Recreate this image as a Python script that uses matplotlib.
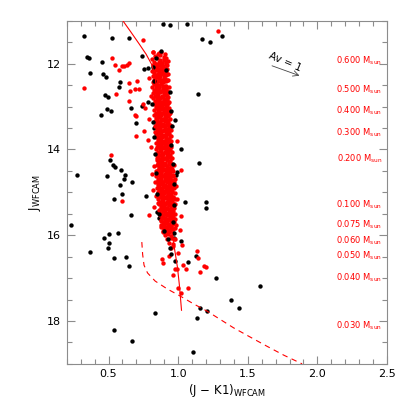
import numpy as np
import matplotlib
matplotlib.use("Agg")
import matplotlib.pyplot as plt
from matplotlib.ticker import MultipleLocator

# ---------------- data ----------------
# isolated black (field) points
black_x = [0.893, 0.943, 1.060, 0.321, 0.526, 0.645, 1.174, 1.229, 1.317, 0.348,
           0.360, 0.452, 0.738, 0.752, 0.781, 0.367, 0.460, 0.483, 0.579, 0.576,
           0.476, 0.495, 0.443, 0.490, 0.517, 0.664, 0.698, 0.740, 0.780, 1.143,
           0.829, 0.843, 0.974, 1.019, 1.148, 0.995, 0.986, 0.507, 0.490, 0.531,
           0.543, 0.590, 0.619, 0.610, 0.581, 0.671, 0.598, 0.536, 0.769, 1.052,
           1.198, 1.198, 0.274, 0.662, 0.848, 0.860, 0.876, 0.233, 0.567, 0.505,
           0.471, 0.505, 0.495, 0.364, 0.540, 0.629, 0.645, 0.967, 1.019, 1.129,
           1.074, 1.271, 1.586, 1.376, 1.440, 1.157, 1.207, 0.833, 1.138, 0.540,
           0.671, 1.110, 0.917]
black_j = [11.07, 11.10, 11.08, 11.35, 11.41, 11.41, 11.43, 11.50, 11.36, 11.84,
           11.88, 11.96, 11.83, 12.12, 12.10, 12.21, 12.23, 12.30, 12.43, 12.55,
           12.72, 12.78, 13.20, 13.05, 13.10, 13.03, 13.39, 12.99, 12.89, 12.71,
           13.50, 13.62, 13.32, 14.00, 14.31, 14.53, 14.60, 14.24, 14.63, 14.37,
           14.41, 14.49, 14.60, 14.68, 14.84, 14.75, 15.04, 15.15, 15.09, 15.23,
           15.22, 15.36, 14.60, 15.54, 15.47, 15.59, 15.61, 15.77, 15.95, 15.97,
           16.06, 16.18, 16.30, 16.40, 16.53, 16.51, 16.72, 16.06, 16.14, 16.48,
           16.62, 17.00, 17.19, 17.51, 17.70, 17.69, 17.77, 17.81, 17.92, 18.20,
           18.46, 18.73, 15.85]

# black points lying within the cluster sequence
black_in_x = [0.820, 0.840, 0.880, 0.915, 0.830, 0.940, 0.815, 0.945, 0.822,
              0.955, 0.828, 0.950, 0.835, 0.962, 0.840, 0.968, 0.850, 0.972,
              0.862, 0.960, 0.900, 0.930, 0.940, 0.950, 0.970, 0.980]
black_in_j = [12.08, 11.86, 11.70, 12.15, 12.40, 12.65, 12.95, 13.10, 13.35,
              13.45, 13.70, 13.90, 14.10, 14.35, 14.55, 14.80, 15.05, 15.30,
              15.50, 15.70, 15.90, 16.10, 16.30, 16.45, 15.95, 16.60]

# red (members) -- outliers around the sequence
red_out_x = [1.288, 0.750, 0.819, 0.864, 0.900, 0.526, 0.548, 0.574, 0.595, 0.614,
             0.631, 0.645, 0.321, 0.648, 0.652, 0.557, 0.707, 0.693, 0.717, 0.650,
             0.750, 0.760, 0.690, 0.700, 0.698, 0.752, 0.780, 0.519, 0.598, 0.790,
             1.133, 1.140, 1.155, 1.186, 1.200, 1.038, 1.055, 1.069, 0.883, 0.888,
             0.964, 0.974, 0.990, 0.998, 1.021, 0.960, 1.000, 1.030, 0.936, 1.019,
             0.829, 0.833, 0.840, 0.852, 0.900, 0.917, 1.020, 1.014, 0.980, 0.948,
             0.790, 0.805, 0.788, 0.812, 0.818, 0.985, 0.992, 0.808, 0.990, 0.825]
red_out_j = [11.23, 11.45, 11.73, 11.75, 11.91, 11.87, 12.04, 12.14, 12.06, 12.05,
             12.03, 11.98, 12.57, 12.45, 12.63, 12.71, 12.41, 12.59, 12.59, 12.88,
             12.94, 13.03, 13.19, 13.23, 13.69, 13.56, 13.77, 14.14, 15.21, 15.53,
             16.37, 16.54, 16.86, 16.72, 16.75, 16.69, 16.79, 17.24, 16.56, 16.65,
             16.93, 16.79, 16.79, 17.22, 17.35, 16.26, 16.41, 16.24, 16.49, 14.47,
             14.39, 14.77, 15.09, 15.26, 15.85, 15.95, 15.56, 15.87, 16.08, 15.40,
             12.33, 12.76, 13.30, 14.58, 14.95, 14.85, 15.15, 13.95, 13.80, 15.35]

# red (members) -- dense cluster sequence, one line per row
red_seq_x = [
    0.820, 0.855, 0.880, 0.905,
    0.835, 0.870, 0.895, 0.915,
    0.815, 0.848, 0.872, 0.900, 0.928,
    0.830, 0.860, 0.885, 0.910,
    0.820, 0.845, 0.868, 0.893, 0.918,
    0.832, 0.857, 0.880, 0.905,
    0.815, 0.842, 0.866, 0.890, 0.912,
    0.828, 0.853, 0.877, 0.900, 0.925,
    0.820, 0.845, 0.870, 0.895,
    0.835, 0.860, 0.884, 0.908, 0.930,
    0.818, 0.843, 0.867, 0.892, 0.915,
    0.830, 0.855, 0.880, 0.903,
    0.815, 0.840, 0.865, 0.888, 0.912, 0.935,
    0.828, 0.852, 0.876, 0.900, 0.922,
    0.820, 0.845, 0.870, 0.895, 0.918,
    0.833, 0.858, 0.882, 0.906, 0.930,
    0.822, 0.847, 0.872, 0.896, 0.920,
    0.835, 0.860, 0.884, 0.908, 0.932,
    0.825, 0.850, 0.874, 0.898, 0.922,
    0.838, 0.862, 0.887, 0.910, 0.935,
    0.828, 0.852, 0.877, 0.900, 0.925,
    0.840, 0.865, 0.889, 0.913, 0.938,
    0.830, 0.855, 0.879, 0.903, 0.927,
    0.842, 0.867, 0.891, 0.915, 0.940,
    0.832, 0.857, 0.881, 0.905, 0.930,
    0.845, 0.870, 0.894, 0.918, 0.943,
    0.835, 0.860, 0.884, 0.908, 0.932,
    0.847, 0.872, 0.896, 0.920, 0.945,
    0.837, 0.862, 0.886, 0.910, 0.935,
    0.850, 0.874, 0.898, 0.922, 0.947,
    0.838, 0.863, 0.887, 0.912, 0.937,
    0.852, 0.876, 0.900, 0.925, 0.950,
    0.840, 0.865, 0.889, 0.913, 0.938,
    0.853, 0.878, 0.902, 0.927, 0.952,
    0.842, 0.867, 0.891, 0.915, 0.940,
    0.855, 0.880, 0.904, 0.928, 0.953,
    0.843, 0.868, 0.892, 0.917, 0.942,
    0.857, 0.882, 0.906, 0.930, 0.955,
    0.845, 0.870, 0.894, 0.919, 0.944,
    0.858, 0.883, 0.908, 0.932, 0.957,
    0.847, 0.872, 0.896, 0.921, 0.946, 0.968,
    0.860, 0.885, 0.910, 0.934, 0.958,
    0.840, 0.865, 0.890, 0.914, 0.938, 0.962,
    0.853, 0.878, 0.902, 0.927, 0.951,
    0.842, 0.867, 0.892, 0.916, 0.940, 0.965,
    0.855, 0.880, 0.905, 0.929, 0.953, 0.975,
    0.845, 0.870, 0.894, 0.918, 0.943, 0.968,
    0.858, 0.883, 0.907, 0.931, 0.956,
    0.848, 0.873, 0.897, 0.921, 0.946, 0.970,
    0.862, 0.886, 0.910, 0.934, 0.958,
    0.852, 0.877, 0.901, 0.925, 0.950, 0.974,
    0.866, 0.890, 0.914, 0.938, 0.962,
    0.856, 0.881, 0.905, 0.929, 0.953, 0.978,
    0.870, 0.894, 0.918, 0.942, 0.966,
    0.860, 0.885, 0.909, 0.933, 0.957, 0.980,
    0.874, 0.898, 0.922, 0.946, 0.970,
    0.865, 0.889, 0.913, 0.937, 0.961,
    0.878, 0.902, 0.926, 0.950, 0.974,
    0.870, 0.894, 0.918, 0.942, 0.966,
    0.882, 0.906, 0.930, 0.954, 0.978,
    0.875, 0.899, 0.923, 0.947, 0.970,
    0.888, 0.912, 0.936, 0.960, 0.983,
    0.880, 0.904, 0.928, 0.952, 0.975,
    0.895, 0.918, 0.942, 0.966,
    0.888, 0.912, 0.936, 0.960,
    0.905, 0.928, 0.952,
    0.918, 0.945, 0.968,
    0.935, 0.960,
    0.948,
]
red_seq_j = [
    11.74, 11.78, 11.73, 11.77,
    11.83, 11.80, 11.84, 11.86,
    11.90, 11.88, 11.92, 11.89, 11.93,
    11.97, 11.95, 11.99, 11.96,
    12.03, 12.05, 12.02, 12.06, 12.04,
    12.10, 12.12, 12.09, 12.11,
    12.17, 12.15, 12.18, 12.16, 12.19,
    12.22, 12.24, 12.21, 12.25, 12.23,
    12.29, 12.31, 12.28, 12.30,
    12.36, 12.34, 12.37, 12.35, 12.38,
    12.42, 12.44, 12.41, 12.43, 12.40,
    12.48, 12.50, 12.47, 12.51,
    12.55, 12.57, 12.54, 12.56, 12.58, 12.55,
    12.62, 12.60, 12.63, 12.61, 12.64,
    12.68, 12.70, 12.67, 12.69, 12.71,
    12.75, 12.73, 12.76, 12.74, 12.77,
    12.81, 12.83, 12.80, 12.82, 12.84,
    12.88, 12.86, 12.89, 12.87, 12.90,
    12.94, 12.96, 12.93, 12.95, 12.97,
    13.01, 12.99, 13.02, 13.00, 13.03,
    13.07, 13.09, 13.06, 13.08, 13.10,
    13.14, 13.12, 13.15, 13.13, 13.16,
    13.20, 13.22, 13.19, 13.21, 13.23,
    13.27, 13.25, 13.28, 13.26, 13.29,
    13.33, 13.35, 13.32, 13.34, 13.36,
    13.40, 13.38, 13.41, 13.39, 13.42,
    13.46, 13.48, 13.45, 13.47, 13.49,
    13.53, 13.51, 13.54, 13.52, 13.55,
    13.59, 13.61, 13.58, 13.60, 13.62,
    13.66, 13.64, 13.67, 13.65, 13.68,
    13.72, 13.74, 13.71, 13.73, 13.75,
    13.79, 13.77, 13.80, 13.78, 13.81,
    13.85, 13.87, 13.84, 13.86, 13.88,
    13.92, 13.90, 13.93, 13.91, 13.94,
    13.98, 14.00, 13.97, 13.99, 14.01,
    14.05, 14.03, 14.06, 14.04, 14.07,
    14.11, 14.13, 14.10, 14.12, 14.14,
    14.18, 14.16, 14.19, 14.17, 14.20,
    14.24, 14.26, 14.23, 14.25, 14.27,
    14.31, 14.29, 14.32, 14.30, 14.33,
    14.37, 14.39, 14.36, 14.38, 14.40, 14.37,
    14.44, 14.42, 14.45, 14.43, 14.46,
    14.50, 14.52, 14.49, 14.51, 14.53, 14.50,
    14.57, 14.55, 14.58, 14.56, 14.59,
    14.63, 14.65, 14.62, 14.64, 14.66, 14.63,
    14.70, 14.68, 14.71, 14.69, 14.72, 14.70,
    14.76, 14.78, 14.75, 14.77, 14.79, 14.76,
    14.83, 14.81, 14.84, 14.82, 14.85,
    14.89, 14.91, 14.88, 14.90, 14.92, 14.89,
    14.96, 14.94, 14.97, 14.95, 14.98,
    15.02, 15.04, 15.01, 15.03, 15.05, 15.02,
    15.09, 15.07, 15.10, 15.08, 15.11,
    15.15, 15.17, 15.14, 15.16, 15.18, 15.15,
    15.22, 15.20, 15.23, 15.21, 15.24,
    15.28, 15.30, 15.27, 15.29, 15.31, 15.28,
    15.35, 15.33, 15.36, 15.34, 15.37,
    15.41, 15.43, 15.40, 15.42, 15.44,
    15.48, 15.46, 15.49, 15.47, 15.50,
    15.54, 15.56, 15.53, 15.55, 15.57,
    15.61, 15.59, 15.62, 15.60, 15.63,
    15.67, 15.69, 15.66, 15.68, 15.70,
    15.74, 15.72, 15.75, 15.73, 15.76,
    15.80, 15.82, 15.79, 15.81, 15.83,
    15.87, 15.85, 15.88, 15.86,
    15.93, 15.95, 15.92, 15.94,
    16.00, 15.98, 16.01,
    16.08, 16.06, 16.10,
    16.18, 16.20,
    16.30,
]

# red (members) -- in-between rows of the dense sequence
red_fill_x = [
    0.838, 0.862, 0.887, 0.910,
    0.826, 0.850, 0.874, 0.898, 0.921,
    0.840, 0.864, 0.888, 0.912,
    0.828, 0.852, 0.876, 0.900, 0.922,
    0.842, 0.866, 0.890, 0.914,
    0.832, 0.856, 0.880, 0.904, 0.927,
    0.845, 0.869, 0.893, 0.917,
    0.835, 0.859, 0.883, 0.907, 0.930,
    0.848, 0.872, 0.896, 0.920,
    0.838, 0.862, 0.886, 0.910, 0.934,
    0.850, 0.874, 0.898, 0.922,
    0.840, 0.864, 0.888, 0.912, 0.937,
    0.852, 0.876, 0.900, 0.925,
    0.843, 0.867, 0.891, 0.915, 0.940,
    0.855, 0.879, 0.903, 0.927,
    0.846, 0.870, 0.894, 0.918, 0.943,
    0.857, 0.881, 0.905, 0.930,
    0.848, 0.872, 0.896, 0.920, 0.945,
    0.860, 0.884, 0.908, 0.932,
    0.852, 0.876, 0.900, 0.924, 0.948,
    0.863, 0.887, 0.911, 0.935, 0.960,
    0.855, 0.879, 0.903, 0.927, 0.951,
    0.866, 0.890, 0.914, 0.938, 0.962,
    0.858, 0.882, 0.906, 0.930, 0.954,
    0.870, 0.894, 0.918, 0.942, 0.966,
    0.862, 0.886, 0.910, 0.934, 0.958,
    0.875, 0.899, 0.923, 0.947,
    0.868, 0.892, 0.916, 0.940, 0.962,
    0.880, 0.904, 0.928, 0.952,
    0.876, 0.900, 0.924, 0.948,
    0.892, 0.916, 0.940,
]
red_fill_j = [
    12.00, 12.02, 11.99, 12.01,
    12.13, 12.15, 12.12, 12.14, 12.13,
    12.26, 12.28, 12.25, 12.27,
    12.39, 12.41, 12.38, 12.40, 12.39,
    12.52, 12.54, 12.51, 12.53,
    12.65, 12.67, 12.64, 12.66, 12.65,
    12.78, 12.80, 12.77, 12.79,
    12.91, 12.93, 12.90, 12.92, 12.91,
    13.04, 13.06, 13.03, 13.05,
    13.17, 13.19, 13.16, 13.18, 13.17,
    13.30, 13.32, 13.29, 13.31,
    13.43, 13.45, 13.42, 13.44, 13.43,
    13.56, 13.58, 13.55, 13.57,
    13.69, 13.71, 13.68, 13.70, 13.69,
    13.82, 13.84, 13.81, 13.83,
    13.95, 13.97, 13.94, 13.96, 13.95,
    14.08, 14.10, 14.07, 14.09,
    14.21, 14.23, 14.20, 14.22, 14.21,
    14.34, 14.36, 14.33, 14.35,
    14.47, 14.49, 14.46, 14.48, 14.47,
    14.60, 14.62, 14.59, 14.61, 14.60,
    14.73, 14.75, 14.72, 14.74, 14.73,
    14.86, 14.88, 14.85, 14.87, 14.86,
    14.99, 15.01, 14.98, 15.00, 14.99,
    15.12, 15.14, 15.11, 15.13, 15.12,
    15.25, 15.27, 15.24, 15.26, 15.25,
    15.38, 15.40, 15.37, 15.39,
    15.51, 15.53, 15.50, 15.52, 15.51,
    15.64, 15.66, 15.63, 15.65,
    15.77, 15.79, 15.76, 15.78,
    15.90, 15.92, 15.89,
]

# isochrone (solid) and dashed model track
iso_x = [0.603, 0.660, 0.720, 0.770, 0.810, 0.835, 0.850, 0.862, 0.875, 0.890,
         0.905, 0.920, 0.940, 0.958, 0.978, 0.995, 1.010, 1.024]
iso_j = [11.00, 11.26, 11.54, 11.78, 12.02, 12.30, 12.80, 13.30, 13.80, 14.30,
         14.80, 15.20, 15.60, 16.00, 16.40, 16.75, 17.20, 17.75]
dash_x = [0.739, 0.745, 0.755, 0.780, 0.835, 0.920, 1.015, 1.110, 1.207, 1.300,
          1.398, 1.520, 1.638, 1.760, 1.890]
dash_j = [16.16, 16.45, 16.70, 16.88, 17.07, 17.25, 17.42, 17.60, 17.77, 17.96,
          18.16, 18.38, 18.59, 18.80, 19.00]

# mass labels on the right
mass_labels = ["0.600", "0.500", "0.400", "0.300", "0.200", "0.100",
               "0.075", "0.060", "0.050", "0.040", "0.030"]
mass_j = [11.94, 12.62, 13.11, 13.60, 14.22, 15.30, 15.76, 16.13, 16.48, 17.00, 18.12]

# ---------------- plot ----------------
fig = plt.figure(figsize=(4.07, 4.07), dpi=100)
ax = fig.add_axes([0.164, 0.106, 0.787, 0.843])

ms = 10
red = "#ff0000"
ax.scatter(black_x, black_j, s=ms, c="black", linewidths=0, zorder=2)
ax.scatter(red_seq_x, red_seq_j, s=ms, c=red, linewidths=0, zorder=3)
ax.scatter(red_fill_x, red_fill_j, s=ms, c=red, linewidths=0, zorder=3)
ax.scatter(red_out_x, red_out_j, s=ms, c=red, linewidths=0, zorder=3)
ax.scatter(black_in_x, black_in_j, s=ms, c="black", linewidths=0, zorder=3.5)

ax.plot(iso_x, iso_j, color=red, lw=0.8, zorder=4)
ax.plot(dash_x, dash_j, color=red, lw=0.8, dashes=(5, 4), zorder=4)

ax.set_xlim(0.2, 2.5)
ax.set_ylim(19.0, 11.0)

ax.xaxis.set_major_locator(MultipleLocator(0.5))
ax.xaxis.set_minor_locator(MultipleLocator(0.1))
ax.yaxis.set_major_locator(MultipleLocator(2))
ax.yaxis.set_minor_locator(MultipleLocator(0.5))
ax.set_xticks([0.5, 1.0, 1.5, 2.0, 2.5])
ax.set_xticklabels(["0.5", "1.0", "1.5", "2.0", "2.5"])

gray = "#8c8c8c"
for sp in ax.spines.values():
    sp.set_color(gray)
    sp.set_linewidth(0.8)
ax.tick_params(which="both", direction="in", top=True, right=True,
               color=gray, width=0.8, labelsize=8, pad=4)
ax.tick_params(which="major", length=6)
ax.tick_params(which="minor", length=3.5)

ax.set_xlabel(r"(J $-$ K1)$_{\rm WFCAM}$", fontsize=8.5, labelpad=2)
ax.set_ylabel(r"J$_{\rm WFCAM}$", fontsize=8.5, labelpad=3)

for lab, jj in zip(mass_labels, mass_j):
    ax.text(0.984, jj, lab + r" M$_{\rm sun}$", color=red, fontsize=6,
            ha="right", va="center", transform=ax.get_yaxis_transform())

# reddening vector
ax.annotate("", xy=(1.871, 12.28), xytext=(1.674, 12.05),
            arrowprops=dict(arrowstyle="->", color="#444444", lw=0.6,
                            shrinkA=0, shrinkB=0))
ax.text(1.771, 11.95, "Av = 1", fontsize=7.5, rotation=-23, ha="center",
        va="center")

fig.savefig("out.png", dpi=100)
